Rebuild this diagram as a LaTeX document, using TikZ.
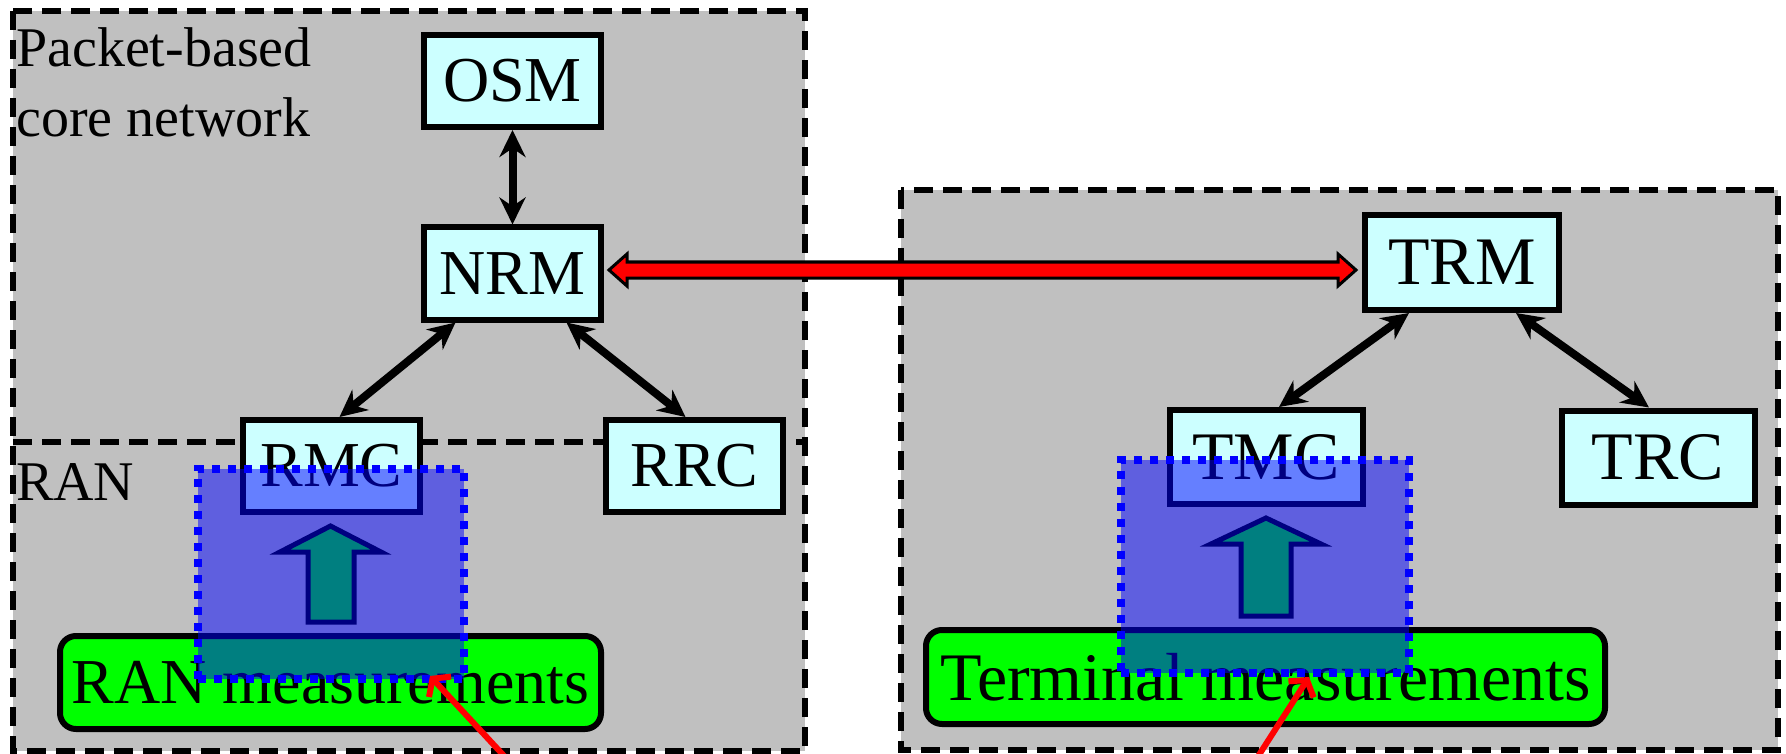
\documentclass[tikz,border=0pt]{standalone}
\usepackage{fontspec}
\setmainfont{Liberation Serif}
\usetikzlibrary{arrows.meta,calc}
\definecolor{regiongray}{HTML}{C0C0C0}
\definecolor{boxcyan}{HTML}{CCFFFF}
\definecolor{measgreen}{HTML}{00FF00}
\begin{document}
\begin{tikzpicture}[x=1pt,y=-1pt,
  region/.style={draw=black, line width=6pt, dash pattern=on 19pt off 10pt, fill=regiongray},
  unitL/.style={draw=black, line width=6pt, fill=boxcyan, inner sep=0pt, minimum width=177pt, minimum height=92pt, font=\fontsize{64}{70}\selectfont},
  unitR/.style={draw=black, line width=6pt, fill=boxcyan, inner sep=0pt, minimum width=193pt, minimum height=94pt, font=\fontsize{68}{72}\selectfont},
  meas/.style={draw=black, line width=6pt, fill=measgreen, rounded corners=16pt, inner sep=0pt},
  link/.style={line width=8pt, {Stealth[length=27pt,width=26pt]}-{Stealth[length=27pt,width=26pt]}},
  bluepatch/.style={draw=blue, line width=8pt, dash pattern=on 8pt off 8pt, fill=blue, fill opacity=0.5, draw opacity=1, inner sep=0pt},
  uparrow/.style={draw=black, line width=5pt, fill=measgreen, line join=miter},
  fatarrow/.style={draw=black, line width=3pt, fill=red},
  pointer/.style={draw=red, line width=6pt, -{Straight Barb[length=11pt,width=30pt]}},
  areatext/.style={font=\fontsize{56}{70}\selectfont, inner sep=0pt, anchor=base west}
]
\useasboundingbox[fill=white] (0,0) rectangle (1786,754);

% regions
\path[region] (13,11) rectangle (805,751);
\path[region] (901,190) rectangle (1778,750);
\draw[black, line width=6pt, dash pattern=on 19pt off 10pt] (13,442) -- (805,442);

\node[areatext] (pkt1) at (16,67) {Packet-based};
\node[areatext] (pkt2) at (16,137) {core network};
\node[areatext] (ran) at (16,500) {RAN};

% left units
\node[unitL] (osm) at (512.5,81) {OSM};
\node[unitL] (nrm) at (512.5,273.5) {NRM};
\node[unitL] (rmc) at (331.5,466) {RMC};
\node[unitL] (rrc) at (694.5,466) {RRC};

% right units
\node[unitR, minimum width=194pt, minimum height=95pt] (trm) at (1462,262.5) {TRM};
\node[unitR] (tmc) at (1266,457) {TMC};
\node[unitR] (trc) at (1658,457.5) {TRC};

% links
\draw[link] (osm) -- (nrm);
\draw[link] ([xshift=-57pt]nrm.south) -- ([xshift=8pt]rmc.north);
\draw[link] ([xshift=54pt]nrm.south) -- ([xshift=-9pt]rrc.north);
\draw[link] ([xshift=-53pt]trm.south) -- ([xshift=13pt]tmc.north);
\draw[link] ([xshift=54pt]trm.south) -- ([xshift=-9pt]trc.north);

% fat red double arrow NRM <-> TRM
\coordinate (lev) at (0,270);
\coordinate (ra) at ($(nrm.east |- lev)+(5,0)$);
\coordinate (rb) at ($(trm.west |- lev)+(-6,0)$);
\draw[fatarrow] (ra) -- ($(ra)+(18,-16)$) -- ($(ra)+(18,-8)$) -- ($(rb)+(-18,-8)$) -- ($(rb)+(-18,-16)$) -- (rb)
  -- ($(rb)+(-18,16)$) -- ($(rb)+(-18,8)$) -- ($(ra)+(18,8)$) -- ($(ra)+(18,16)$) -- cycle;

% measurement boxes
\node[meas, minimum width=541pt, minimum height=93pt, font=\fontsize{64}{70}\selectfont] (ranm) at (330.5,682.5) {RAN measurements};
\node[meas, minimum width=679pt, minimum height=94pt, font=\fontsize{68}{72}\selectfont] (termm) at (1265.5,677) {Terminal measurements};

% up arrows
\draw[uparrow] (308,622) -- (308,552) -- (280,552) -- (330.5,526) -- (381,552) -- (354,552) -- (354,622) -- cycle;
\draw[uparrow] (1241,616) -- (1241,544) -- (1211,544) -- (1266,518) -- (1321,544) -- (1291,544) -- (1291,616) -- cycle;

% blue translucent patches
\node[bluepatch, minimum width=266pt, minimum height=210pt] (patchL) at (331,574) {};
\node[bluepatch, minimum width=288pt, minimum height=213pt] (patchR) at (1265,566.5) {};

% red pointers
\coordinate (p1s) at (506,758);
\coordinate (p1e) at (430,676);
\coordinate (p2s) at (1257,758);
\coordinate (p2e) at (1309,677);
\draw[pointer] (p1s) -- (p1e);
\draw[pointer] (p2s) -- (p2e);
\end{tikzpicture}
\end{document}
